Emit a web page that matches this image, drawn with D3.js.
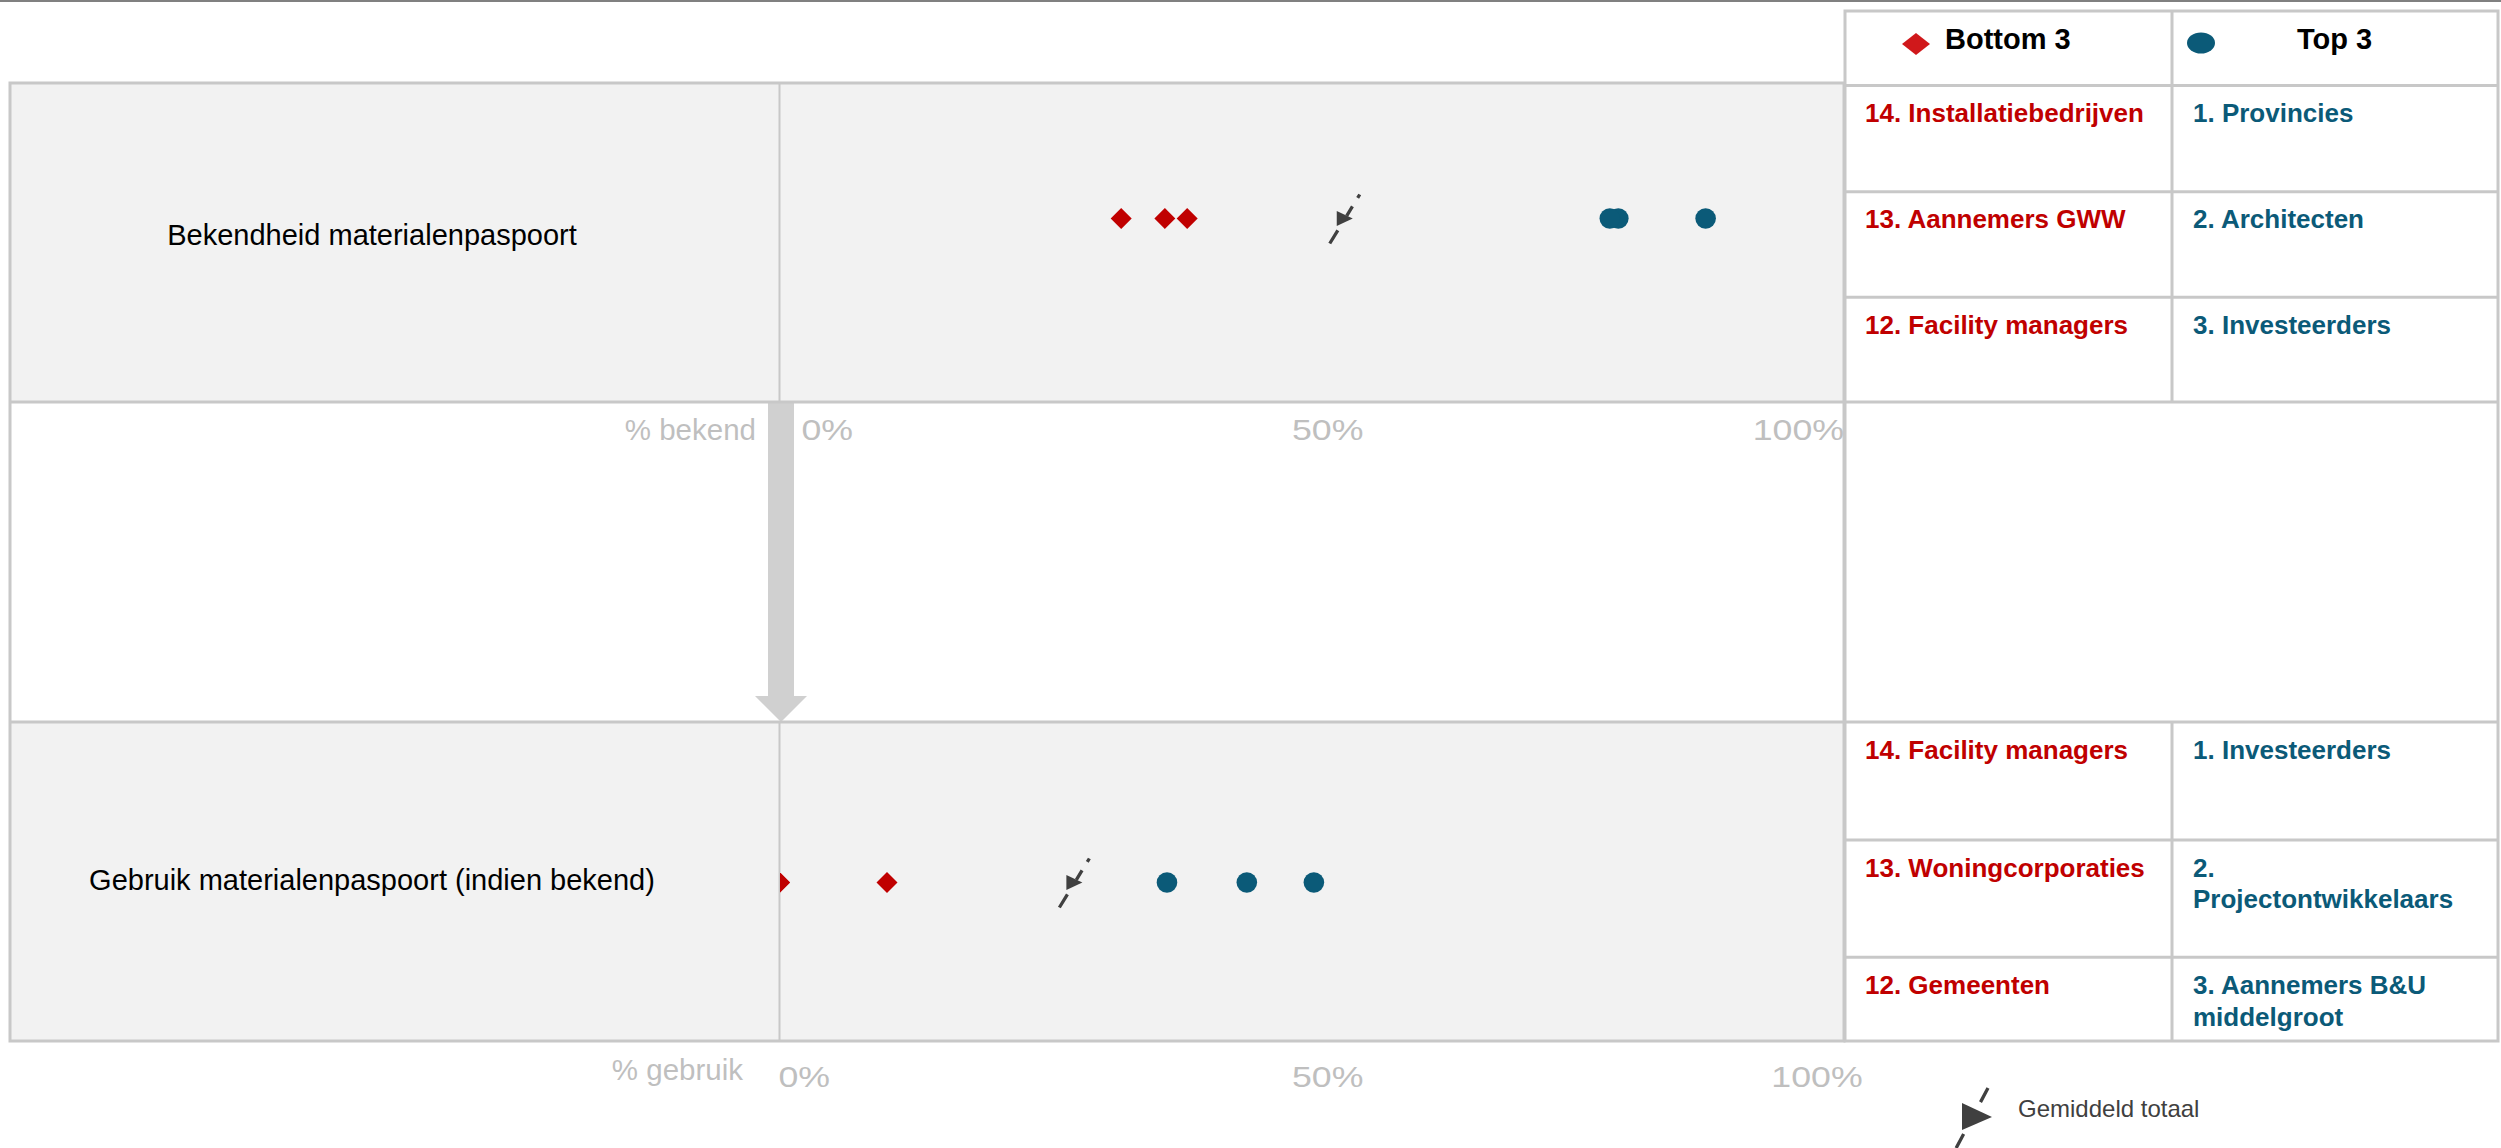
<!DOCTYPE html>
<html><head><meta charset="utf-8">
<script src="https://cdn.jsdelivr.net/npm/d3@7"></script>
<style>html,body{margin:0;padding:0;background:#fff}svg{display:block}text{font-family:"Liberation Sans",Arial,sans-serif}</style>
</head><body>
<svg id="c" width="2501" height="1148"></svg>
<script>
// ---------- data ----------
const measures = ["Bekendheid materialenpaspoort", "Gebruik materialenpaspoort (indien bekend)"];
const axisTitles = ["% bekend", "% gebruik"];
const tickValues = [0, 0.5, 1];
const tickLabels = ["0%", "50%", "100%"];
const bottom3Values = [[0.321, 0.362, 0.383], [0.0, 0.0, 0.101]];
const top3Values = [[0.870, 0.788, 0.780], [0.502, 0.439, 0.364]];
const averageValues = [0.531, 0.277];
const bottom3Names = [["14. Installatiebedrijven", "13. Aannemers GWW", "12. Facility managers"],
                      ["14. Facility managers", "13. Woningcorporaties", "12. Gemeenten"]];
const top3Names = [[["1. Provincies"], ["2. Architecten"], ["3. Investeerders"]],
                   [["1. Investeerders"], ["2.", "Projectontwikkelaars"], ["3. Aannemers B&U", "middelgroot"]]];
const legendLabels = ["Bottom 3", "Top 3", "Gemiddeld totaal"];

// ---------- style / layout ----------
const RED = "#c00000", TEAL = "#0b5a78", BORDER = "#c8c8c8", PANEL = "#f2f2f2", TICK = "#bfbfbf", DARK = "#404040";
const svg = d3.select("#c");
const L = {x0: 10, x1: 1844, plot0: 779.5, tx0: 1845, tx1: 2498, tcol: 2172};
const panels = [{y0: 83, y1: 402}, {y0: 722, y1: 1041}];
const x = d3.scaleLinear().domain([0, 1]).range([L.plot0, L.x1]);

svg.append("rect").attr("width", 2501).attr("height", 1148).attr("fill", "#fff");
svg.append("line").attr("x1", 0).attr("x2", 2501).attr("y1", 1).attr("y2", 1).attr("stroke", "#808080").attr("stroke-width", 2);

// panel fills
panels.forEach(p => svg.append("rect").attr("x", L.x0).attr("y", p.y0).attr("width", L.x1 - L.x0).attr("height", p.y1 - p.y0).attr("fill", PANEL));

// clip for plot area
const defs = svg.append("defs");
panels.forEach((p, i) => defs.append("clipPath").attr("id", "clip" + i).append("rect")
  .attr("x", L.plot0 + 0.5).attr("y", p.y0).attr("width", L.x1 - L.plot0).attr("height", p.y1 - p.y0));

// gray down arrow between panels
const ax = x(0) + 1.5;
svg.append("path").attr("fill", "#d0d0d0")
  .attr("d", `M${ax-13},403 L${ax+13},403 L${ax+13},696 L${ax+26},696 L${ax},722 L${ax-26},696 L${ax-13},696 Z`);

// left block borders
const bl = svg.append("g").attr("stroke", BORDER).attr("stroke-width", 3).attr("fill", "none");
bl.append("rect").attr("x", L.x0).attr("y", 83).attr("width", L.x1 - L.x0).attr("height", 1041 - 83);
[402, 722].forEach(y => bl.append("line").attr("x1", L.x0).attr("x2", L.x1).attr("y1", y).attr("y2", y));
panels.forEach(p => bl.append("line").attr("x1", x(0)).attr("x2", x(0)).attr("y1", p.y0).attr("y2", p.y1).attr("stroke-width", 2));

// right table borders
const tb = svg.append("g").attr("stroke", BORDER).attr("stroke-width", 3).attr("fill", "none");
tb.append("rect").attr("x", L.tx0).attr("y", 11).attr("width", L.tx1 - L.tx0).attr("height", 1041 - 11);
const hLines = [85.5, 191.7, 297.3, 402, 722, 840, 957.3];
hLines.forEach(y => tb.append("line").attr("x1", L.tx0).attr("x2", L.tx1).attr("y1", y).attr("y2", y));
tb.append("line").attr("x1", L.tcol).attr("x2", L.tcol).attr("y1", 11).attr("y2", 402);
tb.append("line").attr("x1", L.tcol).attr("x2", L.tcol).attr("y1", 722).attr("y2", 1041);

// diamond & circle generators
const diamond = d3.symbol().type(d3.symbolSquare).size(220);

function avgMarker(g, cx, cy, s, dash) {
  g.append("line").attr("x1", cx + 15 * s).attr("y1", cy - 24 * s).attr("x2", cx - 15 * s).attr("y2", cy + 25 * s)
    .attr("stroke", DARK).attr("stroke-width", 3.3).attr("stroke-dasharray", dash);
  g.append("path").attr("fill", DARK)
    .attr("d", `M${cx - 8 * s},${cy - 7.5 * s} L${cx + 8 * s},${cy} L${cx - 8 * s},${cy + 7.5 * s} Z`);
}

// panels content
panels.forEach((p, i) => {
  const yMark = i === 0 ? 218.5 : 882.5;
  svg.append("text").attr("x", 372).attr("y", i === 0 ? 245 : 890).attr("text-anchor", "middle")
    .attr("font-size", 29).attr("fill", "#000").text(measures[i]);
  const g = svg.append("g").attr("clip-path", `url(#clip${i})`);
  g.selectAll("path.d").data(bottom3Values[i]).join("path").attr("class", "d")
    .attr("d", diamond).attr("fill", RED)
    .attr("transform", d => `translate(${x(d)},${yMark}) rotate(45)`);
  g.selectAll("circle").data(top3Values[i]).join("circle")
    .attr("cx", d => x(d)).attr("cy", yMark).attr("r", 10.3).attr("fill", TEAL);
  avgMarker(g, x(averageValues[i]), yMark, 1, "4 10 11 17 16 100");
});

// axis tick labels
const tickBase = [440, 1087];
const tickPos = [
  [{dx: 22, anchor: "start"}, {dx: 16, anchor: "middle"}, {dx: 0, anchor: "end"}],
  [{dx: -1, anchor: "start"}, {dx: 16, anchor: "middle"}, {dx: -27, anchor: "middle"}]
];
[0, 1].forEach(i => {
  svg.append("g").selectAll("text").data(tickValues).join("text")
    .attr("transform", (d, k) => `translate(${x(d) + tickPos[i][k].dx},${tickBase[i]}) scale(1.19,1)`)
    .attr("text-anchor", (d, k) => tickPos[i][k].anchor)
    .attr("font-size", 30).attr("fill", TICK).text((d, k) => tickLabels[k]);
  svg.append("text").attr("x", i === 0 ? 756 : 743).attr("y", i === 0 ? 440 : 1080)
    .attr("text-anchor", "end").attr("font-size", 29.5).attr("fill", TICK).text(axisTitles[i]);
});

// table header
svg.append("path").attr("fill", "#d0181b")
  .attr("d", "M1902,44 L1916,33 L1930,44 L1916,55 Z");
svg.append("text").attr("x", 1945).attr("y", 49).attr("font-size", 29).attr("font-weight", "bold").text(legendLabels[0]);
svg.append("ellipse").attr("cx", 2201).attr("cy", 43).attr("rx", 14).attr("ry", 10.5).attr("fill", TEAL);
svg.append("text").attr("x", 2297).attr("y", 49).attr("font-size", 29).attr("font-weight", "bold").text(legendLabels[1]);

// table rows
const rowTops = [[85.5, 191.7, 297.3], [722, 840, 957.3]];
[0, 1].forEach(i => {
  bottom3Names[i].forEach((t, r) => svg.append("text").attr("x", 1865).attr("y", rowTops[i][r] + 36.5)
    .attr("font-size", 26).attr("font-weight", "bold").attr("fill", RED).text(t));
  top3Names[i].forEach((lines, r) => {
    const tx = svg.append("text").attr("font-size", 26).attr("font-weight", "bold").attr("fill", TEAL);
    lines.forEach((ln, k) => tx.append("tspan").attr("x", 2193).attr("y", rowTops[i][r] + 36.5 + k * 31.7).text(ln));
  });
});

// bottom legend: average marker
const lg = svg.append("g");
lg.append("line").attr("x1", 1988).attr("y1", 1088).attr("x2", 1953).attr("y2", 1154)
  .attr("stroke", DARK).attr("stroke-width", 3.3).attr("stroke-dasharray", "16 10");
lg.append("path").attr("fill", DARK).attr("d", "M1962,1103 L1992,1117 L1962,1130 Z");
lg.append("text").attr("x", 2018).attr("y", 1117).attr("font-size", 24).attr("fill", DARK).text(legendLabels[2]);
</script>
</body></html>
